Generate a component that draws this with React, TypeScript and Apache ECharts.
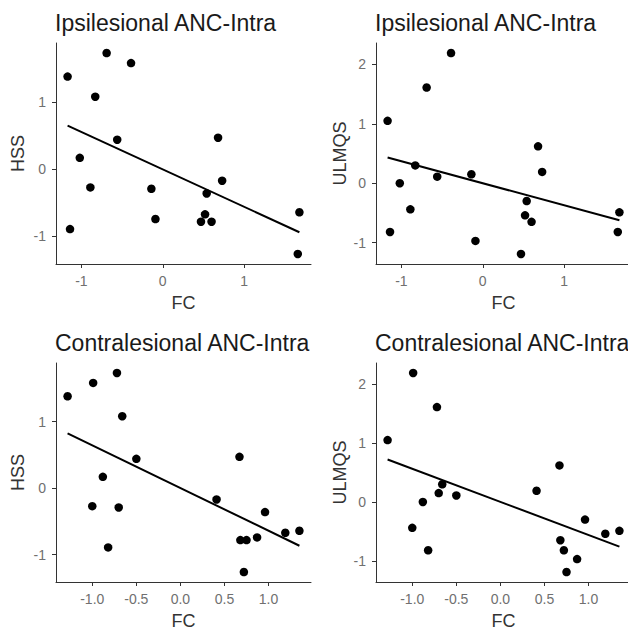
import React, { useEffect, useRef } from "react";
import * as echarts from "echarts";

// Subject-level values (same 18 subjects in every panel)
const hss = [1.38, 1.73, 1.58, 1.08, 0.44, 0.17, -0.27, -0.89, -0.29, -0.74, -0.78, -1.26, -0.36, -0.67, -0.78, 0.47, -0.17, -0.64];
const ulmqs = [1.05, 1.61, 2.19, 0.3, 0.11, 0.0, -0.44, -0.82, 0.15, -0.97, -1.19, -0.82, -0.3, -0.54, -0.65, 0.62, 0.19, -0.49];
const fcIpsi = [-1.17, -0.69, -0.39, -0.83, -0.56, -1.02, -0.89, -1.14, -0.14, -0.09, 0.47, 1.66, 0.54, 0.52, 0.6, 0.68, 0.73, 1.68];
const fcContra = [-1.28, -0.72, -0.99, -0.66, -0.5, -0.88, -1.0, -0.82, -0.7, 0.87, 0.75, 0.72, 0.96, 1.19, 0.68, 0.67, 0.41, 1.35];

const xTicksIpsi = [-1, 0, 1];
const xTicksContra = [-1, -0.5, 0, 0.5, 1];
const yTicksHss = [-1, 0, 1];
const yTicksUlmqs = [-1, 0, 1, 2];

const titles = ["Ipsilesional ANC-Intra", "Ipsilesional ANC-Intra", "Contralesional ANC-Intra", "Contralesional ANC-Intra"];
const yNames = ["HSS", "ULMQS", "HSS", "ULMQS"];
const xName = "FC";

const FONT = "'Liberation Sans', Arial, sans-serif";

function expand(arr: number[]): [number, number] {
  const mn = Math.min(...arr);
  const mx = Math.max(...arr);
  const r = mx - mn;
  return [mn - 0.05 * r, mx + 0.05 * r];
}

function fitLine(x: number[], y: number[]): number[][] {
  const n = x.length;
  const mx = x.reduce((a, b) => a + b, 0) / n;
  const my = y.reduce((a, b) => a + b, 0) / n;
  let sxy = 0;
  let sxx = 0;
  for (let i = 0; i < n; i++) {
    sxy += (x[i] - mx) * (y[i] - my);
    sxx += (x[i] - mx) * (x[i] - mx);
  }
  const b = sxy / sxx;
  const a = my - b * mx;
  const x0 = Math.min(...x);
  const x1 = Math.max(...x);
  return [
    [x0, a + b * x0],
    [x1, a + b * x1],
  ];
}

export default function App() {
  const ref = useRef<HTMLDivElement>(null);

  useEffect(() => {
    if (!ref.current) return;
    const chart = echarts.init(ref.current, undefined, { renderer: "svg" });

    const panels = [
      { x: fcIpsi, y: hss, xTicks: xTicksIpsi, yTicks: yTicksHss, dec: 0, grid: { left: 56, top: 43, width: 255, height: 221 }, yGap: 29, titleTop: 11 },
      { x: fcIpsi, y: ulmqs, xTicks: xTicksIpsi, yTicks: yTicksUlmqs, dec: 0, grid: { left: 376, top: 43, width: 255, height: 221 }, yGap: 27, titleTop: 11 },
      { x: fcContra, y: hss, xTicks: xTicksContra, yTicks: yTicksHss, dec: 1, grid: { left: 56, top: 363, width: 255, height: 222 }, yGap: 29, titleTop: 331 },
      { x: fcContra, y: ulmqs, xTicks: xTicksContra, yTicks: yTicksUlmqs, dec: 1, grid: { left: 376, top: 363, width: 255, height: 222 }, yGap: 27, titleTop: 331 },
    ];

    const axisLine = { show: true, onZero: false, lineStyle: { color: "#333333", width: 1 } };
    const axisTickBase = { show: true, length: 4, lineStyle: { color: "#333333", width: 1 } };
    const labelBase = { fontSize: 14, color: "#707070", fontFamily: FONT };

    const option: any = {
      animation: false,
      backgroundColor: "#ffffff",
      textStyle: { fontFamily: FONT },
      title: panels.map((p, i) => ({
        text: titles[i],
        left: p.grid.left - 1,
        top: p.titleTop,
        padding: 0,
        textStyle: { fontSize: 23, fontWeight: "normal", color: "#1a1a1a", fontFamily: FONT },
      })),
      grid: panels.map((p) => ({ ...p.grid, containLabel: false })),
      xAxis: panels.map((p, i) => {
        const [mn, mx] = expand(p.x);
        return {
          type: "value",
          gridIndex: i,
          min: mn,
          max: mx,
          axisLine,
          axisTick: { ...axisTickBase, customValues: p.xTicks },
          axisLabel: {
            ...labelBase,
            margin: 10,
            customValues: p.xTicks,
            formatter: (v: number) => v.toFixed(p.dec),
          },
          splitLine: { show: false },
          name: xName,
          nameLocation: "middle",
          nameGap: 30,
          nameTextStyle: { fontSize: 18, color: "#333333", fontFamily: FONT },
        };
      }),
      yAxis: panels.map((p, i) => {
        const [mn, mx] = expand(p.y);
        return {
          type: "value",
          gridIndex: i,
          min: mn,
          max: mx,
          axisLine,
          axisTick: { ...axisTickBase, customValues: p.yTicks },
          axisLabel: {
            ...labelBase,
            margin: 10,
            customValues: p.yTicks,
            formatter: (v: number) => v.toFixed(0),
          },
          splitLine: { show: false },
          name: yNames[i],
          nameLocation: "middle",
          nameGap: p.yGap,
          nameTextStyle: { fontSize: 18, color: "#333333", fontFamily: "'Liberation Sans Narrow', 'Liberation Sans', Arial, sans-serif" },
        };
      }),
      series: panels.flatMap((p, i) => [
        {
          type: "scatter",
          xAxisIndex: i,
          yAxisIndex: i,
          data: p.x.map((xv, k) => [xv, p.y[k]]),
          symbolSize: 8.5,
          itemStyle: { color: "#000000", opacity: 1 },
          z: 2,
        },
        {
          type: "line",
          xAxisIndex: i,
          yAxisIndex: i,
          data: fitLine(p.x, p.y),
          showSymbol: false,
          symbol: "none",
          lineStyle: { color: "#000000", width: 2 },
          z: 3,
        },
      ]),
    };

    chart.setOption(option);
    return () => chart.dispose();
  }, []);

  return (
    <div style={{ position: "fixed", left: 0, top: 0, width: 628, height: 631, overflow: "hidden", background: "#fff" }}>
      <div ref={ref} style={{ width: 640, height: 631 }} />
    </div>
  );
}
